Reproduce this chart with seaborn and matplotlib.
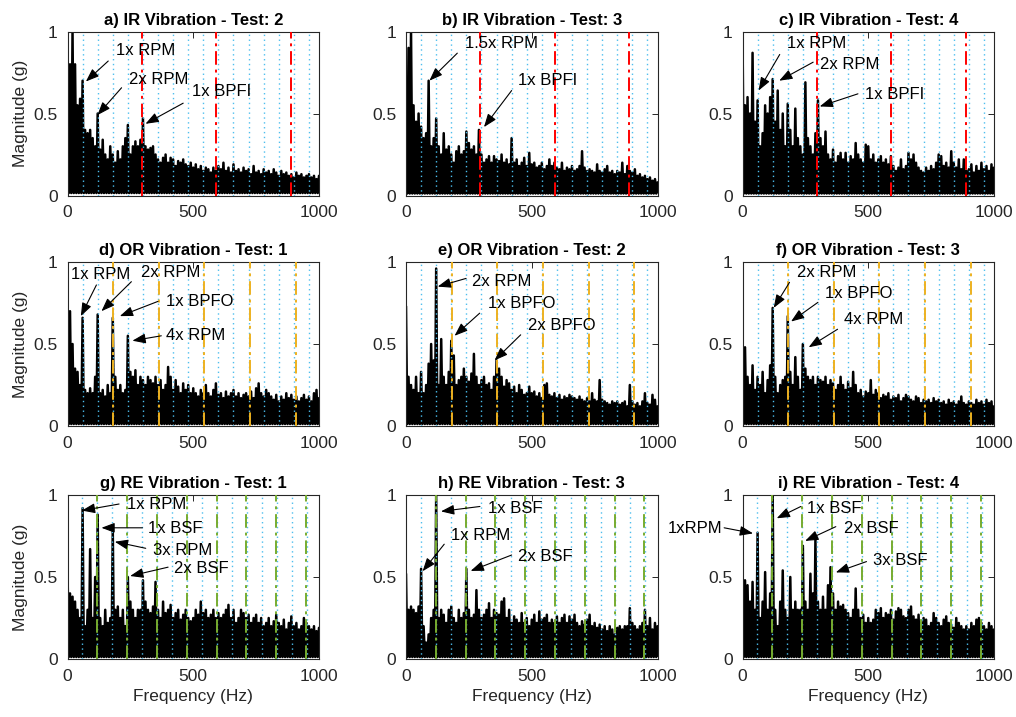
import numpy as np
import pandas as pd
import matplotlib
matplotlib.use("Agg")
import matplotlib.pyplot as plt
import seaborn as sns

# ---------------- data ----------------
freq_grid = list(range(0, 1001, 10))  # Hz

mag_a = [0.30, 0.80, 1.00, 0.80, 0.55, 0.59, 0.70, 0.40, 0.38, 0.40,
         0.35, 0.30, 0.50, 0.28, 0.34, 0.25, 0.22, 0.30, 0.25, 0.20,
         0.27, 0.22, 0.30, 0.35, 0.43, 0.25, 0.30, 0.33, 0.30, 0.34,
         0.47, 0.30, 0.28, 0.29, 0.30, 0.25, 0.22, 0.20, 0.23, 0.25,
         0.20, 0.23, 0.22, 0.18, 0.21, 0.20, 0.22, 0.19, 0.18, 0.20,
         0.17, 0.19, 0.16, 0.18, 0.15, 0.17, 0.16, 0.14, 0.17, 0.15,
         0.18, 0.16, 0.20, 0.15, 0.17, 0.14, 0.19, 0.15, 0.16, 0.14,
         0.17, 0.15, 0.16, 0.13, 0.18, 0.14, 0.15, 0.13, 0.16, 0.14,
         0.15, 0.13, 0.16, 0.14, 0.12, 0.15, 0.13, 0.14, 0.12, 0.13,
         0.11, 0.14, 0.12, 0.13, 0.11, 0.12, 0.13, 0.11, 0.12, 0.10, 0.12]

mag_b = [0.60, 0.90, 1.00, 0.55, 0.45, 0.50, 0.42, 0.35, 0.38, 0.70,
         0.30, 0.35, 0.47, 0.30, 0.25, 0.38, 0.28, 0.30, 0.25, 0.20,
         0.27, 0.30, 0.25, 0.27, 0.39, 0.32, 0.28, 0.30, 0.25, 0.40,
         0.25, 0.20, 0.22, 0.24, 0.20, 0.24, 0.22, 0.21, 0.25, 0.20,
         0.22, 0.19, 0.35, 0.20, 0.22, 0.18, 0.20, 0.23, 0.18, 0.26,
         0.19, 0.20, 0.17, 0.18, 0.20, 0.16, 0.18, 0.22, 0.18, 0.20,
         0.17, 0.16, 0.20, 0.15, 0.17, 0.16, 0.18, 0.15, 0.16, 0.18,
         0.27, 0.17, 0.15, 0.16, 0.15, 0.14, 0.19, 0.15, 0.14, 0.16,
         0.18, 0.14, 0.15, 0.13, 0.15, 0.14, 0.20, 0.13, 0.18, 0.15,
         0.14, 0.16, 0.12, 0.13, 0.11, 0.12, 0.10, 0.11, 0.09, 0.10, 0.08]

mag_c = [1.00, 0.55, 0.60, 0.50, 0.87, 0.45, 0.58, 0.30, 0.38, 0.55,
         0.50, 0.60, 0.71, 0.45, 0.64, 0.40, 0.50, 0.30, 0.56, 0.40,
         0.30, 0.53, 0.35, 0.30, 0.25, 0.69, 0.35, 0.30, 0.25, 0.38,
         0.58, 0.35, 0.30, 0.39, 0.25, 0.22, 0.28, 0.20, 0.24, 0.26,
         0.22, 0.26, 0.20, 0.24, 0.22, 0.32, 0.25, 0.22, 0.20, 0.31,
         0.30, 0.22, 0.25, 0.20, 0.22, 0.24, 0.20, 0.22, 0.19, 0.24,
         0.18, 0.15, 0.17, 0.22, 0.16, 0.18, 0.26, 0.22, 0.25, 0.20,
         0.17, 0.15, 0.14, 0.17, 0.15, 0.18, 0.16, 0.20, 0.25, 0.24,
         0.18, 0.20, 0.17, 0.27, 0.20, 0.17, 0.22, 0.16, 0.22, 0.15,
         0.16, 0.19, 0.14, 0.18, 0.15, 0.20, 0.16, 0.18, 0.15, 0.19, 0.17]

mag_d = [0.45, 0.70, 0.50, 0.35, 0.33, 0.25, 0.66, 0.22, 0.20, 0.23,
         0.20, 0.30, 0.68, 0.20, 0.22, 0.18, 0.25, 0.20, 0.66, 0.30,
         0.22, 0.25, 0.20, 0.22, 0.55, 0.33, 0.30, 0.34, 0.25, 0.30,
         0.28, 0.25, 0.30, 0.28, 0.26, 0.30, 0.25, 0.28, 0.22, 0.25,
         0.36, 0.30, 0.22, 0.28, 0.24, 0.20, 0.26, 0.22, 0.25, 0.20,
         0.23, 0.20, 0.18, 0.22, 0.20, 0.25, 0.20, 0.18, 0.22, 0.26,
         0.19, 0.20, 0.17, 0.21, 0.18, 0.20, 0.22, 0.18, 0.20, 0.17,
         0.19, 0.20, 0.18, 0.21, 0.17, 0.23, 0.26, 0.20, 0.18, 0.22,
         0.20, 0.18, 0.16, 0.19, 0.15, 0.18, 0.16, 0.20, 0.17, 0.19,
         0.16, 0.18, 0.15, 0.17, 0.19, 0.16, 0.18, 0.15, 0.20, 0.22, 0.17]

mag_e = [0.73, 0.30, 0.25, 0.22, 0.30, 0.20, 0.33, 0.20, 0.25, 0.38,
         0.50, 0.40, 0.96, 0.25, 0.53, 0.30, 0.25, 0.33, 0.52, 0.43,
         0.25, 0.28, 0.30, 0.35, 0.30, 0.27, 0.32, 0.44, 0.30, 0.25,
         0.28, 0.30, 0.25, 0.26, 0.22, 0.30, 0.40, 0.35, 0.30, 0.24,
         0.28, 0.26, 0.22, 0.24, 0.20, 0.25, 0.22, 0.19, 0.20, 0.24,
         0.20, 0.21, 0.18, 0.20, 0.17, 0.25, 0.26, 0.19, 0.18, 0.20,
         0.17, 0.19, 0.16, 0.18, 0.17, 0.19, 0.18, 0.17, 0.16, 0.18,
         0.16, 0.15, 0.17, 0.15, 0.20, 0.16, 0.15, 0.28, 0.16, 0.15,
         0.14, 0.13, 0.15, 0.14, 0.15, 0.13, 0.14, 0.15, 0.12, 0.25,
         0.15, 0.13, 0.14, 0.12, 0.15, 0.20, 0.14, 0.13, 0.19, 0.16, 0.12]

mag_f = [0.30, 0.48, 0.30, 0.25, 0.37, 0.22, 0.30, 0.25, 0.33, 0.20,
         0.28, 0.37, 0.72, 0.30, 0.20, 0.25, 0.28, 0.30, 0.67, 0.33,
         0.25, 0.42, 0.30, 0.22, 0.50, 0.35, 0.30, 0.28, 0.30, 0.25,
         0.30, 0.28, 0.27, 0.30, 0.25, 0.28, 0.26, 0.22, 0.25, 0.30,
         0.25, 0.22, 0.27, 0.23, 0.33, 0.25, 0.20, 0.22, 0.18, 0.21,
         0.20, 0.28, 0.19, 0.22, 0.20, 0.17, 0.19, 0.18, 0.20, 0.16,
         0.18, 0.17, 0.19, 0.15, 0.17, 0.19, 0.18, 0.16, 0.15, 0.18,
         0.17, 0.14, 0.16, 0.15, 0.16, 0.14, 0.17, 0.15, 0.16, 0.14,
         0.15, 0.13, 0.16, 0.14, 0.15, 0.13, 0.15, 0.18, 0.14, 0.13,
         0.15, 0.14, 0.13, 0.16, 0.14, 0.15, 0.13, 0.16, 0.14, 0.15, 0.12]

mag_g = [0.55, 0.40, 0.38, 0.35, 0.30, 0.25, 0.92, 0.20, 0.30, 0.67,
         0.25, 0.50, 0.88, 0.25, 0.20, 0.30, 0.22, 0.25, 0.79, 0.30,
         0.32, 0.25, 0.30, 0.20, 0.50, 0.35, 0.30, 0.25, 0.30, 0.30,
         0.48, 0.35, 0.30, 0.28, 0.32, 0.47, 0.30, 0.25, 0.35, 0.28,
         0.30, 0.33, 0.25, 0.28, 0.30, 0.24, 0.27, 0.30, 0.25, 0.23,
         0.25, 0.30, 0.27, 0.35, 0.28, 0.30, 0.25, 0.27, 0.30, 0.25,
         0.28, 0.25, 0.27, 0.30, 0.33, 0.25, 0.30, 0.22, 0.25, 0.30,
         0.28, 0.25, 0.27, 0.22, 0.25, 0.27, 0.22, 0.25, 0.20, 0.22,
         0.25, 0.20, 0.23, 0.27, 0.22, 0.20, 0.24, 0.18, 0.22, 0.26,
         0.20, 0.22, 0.18, 0.20, 0.25, 0.22, 0.20, 0.18, 0.20, 0.17, 0.19]

mag_h = [0.52, 0.30, 0.32, 0.30, 0.28, 0.32, 0.55, 0.20, 0.10, 0.15,
         0.25, 0.30, 1.00, 0.25, 0.30, 0.27, 0.22, 0.30, 0.32, 0.25,
         0.22, 0.30, 0.25, 0.28, 0.55, 0.30, 0.25, 0.27, 0.42, 0.30,
         0.25, 0.27, 0.30, 0.34, 0.25, 0.30, 0.28, 0.27, 0.35, 0.37,
         0.25, 0.30, 0.22, 0.26, 0.24, 0.22, 0.28, 0.22, 0.25, 0.20,
         0.24, 0.27, 0.22, 0.29, 0.24, 0.25, 0.27, 0.22, 0.24, 0.22,
         0.26, 0.22, 0.25, 0.27, 0.22, 0.26, 0.24, 0.27, 0.22, 0.20,
         0.23, 0.21, 0.24, 0.27, 0.20, 0.22, 0.19, 0.21, 0.18, 0.20,
         0.17, 0.20, 0.18, 0.15, 0.19, 0.20, 0.18, 0.20, 0.20, 0.31,
         0.22, 0.20, 0.18, 0.20, 0.22, 0.30, 0.20, 0.25, 0.18, 0.22, 0.20]

mag_i = [0.28, 0.48, 0.45, 0.35, 0.47, 0.30, 0.77, 0.25, 0.35, 0.53,
         0.30, 0.40, 1.00, 0.30, 0.20, 0.35, 0.54, 0.30, 0.25, 0.50,
         0.30, 0.35, 0.30, 0.30, 0.69, 0.35, 0.30, 0.52, 0.40, 0.73,
         0.35, 0.30, 0.38, 0.30, 0.45, 0.56, 0.40, 0.30, 0.35, 0.32,
         0.33, 0.30, 0.28, 0.25, 0.30, 0.43, 0.30, 0.25, 0.27, 0.22,
         0.25, 0.22, 0.24, 0.30, 0.28, 0.31, 0.25, 0.28, 0.27, 0.30,
         0.24, 0.29, 0.31, 0.30, 0.26, 0.25, 0.30, 0.32, 0.26, 0.24,
         0.27, 0.22, 0.25, 0.24, 0.20, 0.22, 0.28, 0.25, 0.22, 0.20,
         0.24, 0.26, 0.22, 0.21, 0.19, 0.25, 0.22, 0.20, 0.18, 0.20,
         0.18, 0.22, 0.20, 0.24, 0.25, 0.22, 0.20, 0.18, 0.22, 0.20, 0.18]

noise_floor = [0.015, 0.012, 0.012, 0.012, 0.012, 0.012, 0.012, 0.012, 0.012]

titles = ["a) IR Vibration - Test: 2", "b) IR Vibration - Test: 3", "c) IR Vibration - Test: 4",
          "d) OR Vibration - Test: 1", "e) OR Vibration - Test: 2", "f) OR Vibration - Test: 3",
          "g) RE Vibration - Test: 1", "h) RE Vibration - Test: 3", "i) RE Vibration - Test: 4"]

# characteristic frequencies (Hz)
rpm_hz = [60.0, 60.0, 59.5]       # shaft speed for each row
fault_hz = [296.0, 181.5, 118.5]  # BPFI, BPFO, BSF

# annotations: label, text x, text y, arrow tail x, tail y, arrow tip x, tip y
ann_a = [("1x RPM", 192, 0.884, 162, 0.82, 73, 0.695),
         ("2x RPM", 245, 0.71, 215, 0.657, 119, 0.49),
         ("1x BPFI", 497, 0.636, 460, 0.563, 310, 0.437)]
ann_b = [("1.5x RPM", 235, 0.925, 204, 0.868, 93, 0.70),
         ("1x BPFI", 447, 0.70, 420, 0.64, 310, 0.417)]
ann_c = [("1x RPM", 177, 0.925, 148, 0.86, 64, 0.64),
         ("2x RPM", 307, 0.80, 281, 0.813, 146, 0.70),
         ("1x BPFI", 486, 0.614, 459, 0.62, 307, 0.543)]
ann_d = [("1x RPM", 13, 0.923, 115, 0.86, 53, 0.67),
         ("2x RPM", 291, 0.937, 254, 0.88, 135, 0.70),
         ("1x BPFO", 393, 0.76, 360, 0.76, 208, 0.67),
         ("4x RPM", 393, 0.55, 373, 0.55, 258, 0.52)]
ann_e = [("2x RPM", 262, 0.88, 239, 0.90, 126, 0.85),
         ("1x BPFO", 326, 0.745, 293, 0.688, 193, 0.55),
         ("2x BPFO", 485, 0.61, 456, 0.556, 352, 0.40)]
ann_f = [("2x RPM", 216, 0.933, 187, 0.876, 124, 0.72),
         ("1x BPFO", 329, 0.81, 300, 0.754, 193, 0.637),
         ("4x RPM", 402, 0.648, 378, 0.59, 263, 0.48)]
ann_g = [("1x RPM", 238, 0.94, 205, 0.945, 57, 0.905),
         ("1x BSF", 320, 0.797, 298, 0.80, 135, 0.80),
         ("3x RPM", 338, 0.66, 311, 0.675, 188, 0.715),
         ("2x BSF", 424, 0.55, 400, 0.56, 249, 0.506)]
ann_h = [("1x BSF", 328, 0.92, 294, 0.93, 139, 0.90),
         ("1x RPM", 179, 0.756, 152, 0.70, 66, 0.535),
         ("2x BSF", 447, 0.624, 420, 0.634, 257, 0.537)]
ann_i = [("1xRPM", -297, 0.797, -73, 0.80, 42, 0.766),
         ("1x BSF", 258, 0.92, 232, 0.93, 136, 0.858),
         ("2x BSF", 404, 0.793, 371, 0.807, 249, 0.72),
         ("3x BSF", 520, 0.598, 493, 0.594, 371, 0.528)]

spectra = [mag_a, mag_b, mag_c, mag_d, mag_e, mag_f, mag_g, mag_h, mag_i]
annotations = [ann_a, ann_b, ann_c, ann_d, ann_e, ann_f, ann_g, ann_h, ann_i]

# ---------------- style ----------------
sns.set_style("white", {"axes.edgecolor": "#262626", "xtick.direction": "in", "ytick.direction": "in"})
plt.rcParams["font.family"] = ["Liberation Sans", "DejaVu Sans"]

W, H = 1016, 717
fig = plt.figure(figsize=(W / 100, H / 100), dpi=100)
lefts = [67.5, 406.0, 742.5]
tops = [31.5, 262.0, 495.0]
aw, ah = 251.5, 164.0

fault_colors = ["#FF0000", "#EDB120", "#77AC30"]
rpm_color = "#4DBEEE"
grey = "#262626"

for k in range(9):
    r, c = divmod(k, 3)
    ax = fig.add_axes([lefts[c] / W, 1 - (tops[r] + ah) / H, aw / W, ah / H])

    xs, ys = [], []
    for i, (f, m) in enumerate(zip(freq_grid, spectra[k])):
        xs.append(f)
        ys.append(m)
        if i < len(freq_grid) - 1:
            xs.append(f + 5)
            ys.append(noise_floor[k])
    df = pd.DataFrame({"Frequency": xs, "Magnitude": ys})
    sns.lineplot(data=df, x="Frequency", y="Magnitude", ax=ax, color="black",
                 lw=1.8, sort=False, estimator=None, zorder=2)

    # shaft-speed harmonics (dotted)
    n = 1
    while n * rpm_hz[r] < 1000:
        ax.axvline(n * rpm_hz[r], color=rpm_color, ls=(0, (1, 2.5)), lw=1.0, zorder=3)
        n += 1
    # fault frequency harmonics (dash-dot)
    n = 1
    while n * fault_hz[r] < 1000:
        ax.axvline(n * fault_hz[r], color=fault_colors[r], ls=(0, (7, 2.5, 1.5, 2.5)), lw=1.4, zorder=4)
        n += 1

    ax.set_xlim(0, 1000)
    ax.set_ylim(0, 1)
    ax.set_xticks([0, 500, 1000])
    ax.set_xticklabels(["0", "500", "1000"])
    ax.set_yticks([0, 0.5, 1])
    ax.set_yticklabels(["0", "0.5", "1"])
    ax.tick_params(direction="in", length=4, width=0.7, top=True, right=True,
                   labelsize=12.5, colors=grey, pad=7)
    for s in ax.spines.values():
        s.set_linewidth(0.8)
        s.set_color(grey)
    ax.set_title(titles[k], fontsize=12, fontweight="bold", pad=5, color="black")
    ax.set_xlabel("Frequency (Hz)" if r == 2 else "", fontsize=12.5, color=grey)
    ax.set_ylabel("Magnitude (g)" if c == 0 else "", fontsize=12.5, color=grey)

    for (lab, tx, ty, ax0, ay0, px, py) in annotations[k]:
        ax.annotate("", xy=(px, py), xytext=(ax0, ay0),
                    arrowprops=dict(arrowstyle="-|>,head_length=0.8,head_width=0.3",
                                    color="black", lw=0.8, shrinkA=0, shrinkB=0),
                    annotation_clip=False, zorder=6)
        ax.text(tx, ty, lab, fontsize=12, ha="left", va="center", color="black",
                clip_on=False, zorder=6)

fig.savefig("out.png", dpi=100)
